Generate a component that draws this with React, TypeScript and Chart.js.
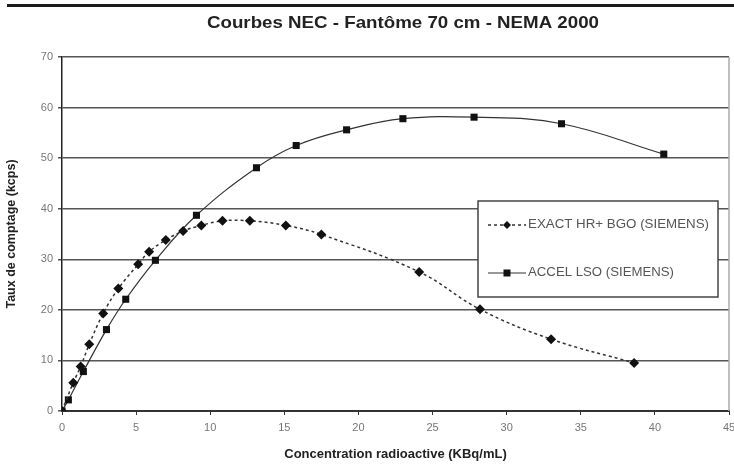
import React, { useEffect, useRef } from "react";
import { Chart, registerables } from "chart.js";

Chart.register(...registerables);

const chartTitle = "Courbes NEC - Fantôme 70 cm - NEMA 2000";
const xAxisTitle = "Concentration radioactive (KBq/mL)";
const yAxisTitle = "Taux de comptage (kcps)";
const seriesNames = ["EXACT HR+ BGO (SIEMENS)", "ACCEL LSO (SIEMENS)"];

const exactX = [0, 0.76, 1.26, 1.84, 2.78, 3.8, 5.14, 5.88, 7.0, 8.17, 9.4, 10.83, 12.67, 15.1, 17.5, 24.1, 28.2, 33.0, 38.6];
const exactY = [0, 5.6, 8.8, 13.2, 19.3, 24.2, 29.0, 31.5, 33.8, 35.6, 36.7, 37.6, 37.6, 36.7, 34.9, 27.5, 20.1, 14.2, 9.5];

const accelX = [0, 0.43, 1.44, 3.0, 4.3, 6.3, 9.07, 13.12, 15.8, 19.2, 23.0, 27.8, 33.7, 40.6];
const accelY = [0, 2.2, 7.8, 16.1, 22.1, 29.8, 38.7, 48.1, 52.5, 55.6, 57.8, 58.1, 56.8, 50.8];

const xMin = 0;
const xMax = 45;
const xStep = 5;
const yMin = 0;
const yMax = 70;
const yStep = 10;

const FONT = "'Liberation Sans', Arial, sans-serif";

function stretchedText(ctx: any, text: string, cx: number, cy: number, targetW: number, align: string) {
  const w = ctx.measureText(text).width;
  const k = targetW / w;
  ctx.save();
  ctx.translate(cx, cy);
  ctx.scale(k, 1);
  ctx.textAlign = align;
  ctx.textBaseline = "middle";
  ctx.fillText(text, 0, 0);
  ctx.restore();
}

const decoPlugin = {
  id: "deco",
  beforeDraw(chart: any) {
    const ctx = chart.ctx;
    ctx.save();
    ctx.fillStyle = "#ffffff";
    ctx.fillRect(0, 0, chart.width, chart.height);
    // top rule
    ctx.fillStyle = "#1a1a1a";
    ctx.fillRect(7, 4, chart.width - 7, 3);
    // title
    ctx.fillStyle = "#222";
    ctx.font = `bold 17px ${FONT}`;
    stretchedText(ctx, chartTitle, 403, 23, 392, "center");
    ctx.restore();
  },
  afterDatasetsDraw(chart: any) {
    const ctx = chart.ctx;
    const ca = chart.chartArea;
    ctx.save();
    // right border of plot
    ctx.strokeStyle = "#aaa";
    ctx.lineWidth = 1.5;
    ctx.beginPath();
    ctx.moveTo(ca.right, ca.top);
    ctx.lineTo(ca.right, ca.bottom);
    ctx.stroke();

    // legend box
    const bx = 478, by = 201, bw = 240, bh = 96;
    ctx.fillStyle = "#fff";
    ctx.fillRect(bx, by, bw, bh);
    ctx.strokeStyle = "#444";
    ctx.lineWidth = 1.5;
    ctx.strokeRect(bx, by, bw, bh);

    const rows = [by + 24, by + 72];
    const widths = [181, 146];
    chart.data.datasets.forEach((ds: any, i: number) => {
      const y = rows[i];
      ctx.strokeStyle = ds.borderColor;
      ctx.lineWidth = ds.borderWidth;
      ctx.setLineDash(ds.borderDash || []);
      ctx.beginPath();
      ctx.moveTo(488, y);
      ctx.lineTo(526, y);
      ctx.stroke();
      ctx.setLineDash([]);
      ctx.fillStyle = "#111";
      ctx.beginPath();
      if (ds.pointStyle === "rectRot") {
        const r = 4;
        ctx.moveTo(507, y - r);
        ctx.lineTo(507 + r, y);
        ctx.lineTo(507, y + r);
        ctx.lineTo(507 - r, y);
        ctx.closePath();
      } else {
        ctx.rect(507 - 3.5, y - 3.5, 7, 7);
      }
      ctx.fill();
      ctx.fillStyle = "#555";
      ctx.font = `12px ${FONT}`;
      stretchedText(ctx, ds.label, 528, y, widths[i], "left");
    });
    ctx.restore();
  },
};

export default function App() {
  const ref = useRef<HTMLCanvasElement | null>(null);

  useEffect(() => {
    document.body.style.margin = "0";
    if (!ref.current) return;
    const chart = new Chart(ref.current, {
      type: "scatter",
      data: {
        datasets: [
          {
            label: seriesNames[0],
            data: exactX.map((x, i) => ({ x, y: exactY[i] })),
            showLine: true,
            borderColor: "#333",
            borderWidth: 1.5,
            borderDash: [3, 3],
            tension: 0.4,
            pointStyle: "rectRot",
            pointRadius: 5,
            pointBackgroundColor: "#111",
            pointBorderColor: "#111",
            pointBorderWidth: 0,
          },
          {
            label: seriesNames[1],
            data: accelX.map((x, i) => ({ x, y: accelY[i] })),
            showLine: true,
            borderColor: "#333",
            borderWidth: 1.2,
            tension: 0.4,
            pointStyle: "rect",
            pointRadius: 5,
            pointBackgroundColor: "#111",
            pointBorderColor: "#111",
            pointBorderWidth: 0,
          },
        ],
      },
      options: {
        responsive: false,
        animation: false,
        devicePixelRatio: 1,
        layout: { padding: { left: 0, top: 57, right: 5, bottom: 0 } },
        plugins: {
          legend: { display: false },
          title: { display: false },
          tooltip: { enabled: false },
        },
        scales: {
          x: {
            type: "linear",
            min: xMin,
            max: xMax,
            afterFit: (s: any) => {
              s.height = 54;
              s.paddingRight = 0;
              s.paddingLeft = 0;
            },
            ticks: {
              stepSize: xStep,
              color: "#777",
              font: { family: FONT, size: 11 },
              padding: 6,
              maxRotation: 0,
            },
            grid: {
              drawOnChartArea: false,
              drawTicks: true,
              tickLength: 4,
              color: "#333",
            },
            border: { display: true, color: "#333", width: 2 },
            title: {
              display: true,
              text: xAxisTitle,
              color: "#222",
              font: { family: FONT, size: 13, weight: "bold" },
              padding: { top: 0, bottom: 3 },
            },
          },
          y: {
            type: "linear",
            min: yMin,
            max: yMax,
            afterFit: (s: any) => {
              s.width = 62;
              s.paddingTop = 0;
              s.paddingBottom = 0;
            },
            ticks: {
              stepSize: yStep,
              color: "#777",
              font: { family: FONT, size: 11 },
              padding: 5,
            },
            grid: {
              color: "#555",
              lineWidth: 1.5,
              tickLength: 4,
            },
            border: { display: true, color: "#222", width: 1.5 },
            title: {
              display: true,
              text: yAxisTitle,
              color: "#222",
              font: { family: FONT, size: 12.5, weight: "bold" },
              padding: { top: 4, bottom: 0 },
            },
          },
        },
      },
      plugins: [decoPlugin],
    });
    return () => chart.destroy();
  }, []);

  return (
    <div style={{ position: "absolute", left: 0, top: 0, width: 734, height: 465 }}>
      <canvas ref={ref} width={734} height={465} style={{ width: 734, height: 465 }} />
    </div>
  );
}
